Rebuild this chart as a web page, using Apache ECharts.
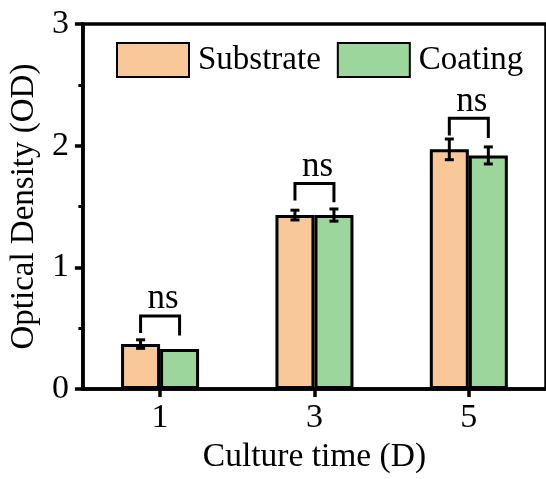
<!DOCTYPE html>
<html>
<head>
<meta charset="utf-8">
<script src="https://cdn.jsdelivr.net/npm/echarts@6/dist/echarts.min.js"></script>
<style>
  html, body { margin: 0; padding: 0; background: #fff; }
  #chart { width: 546px; height: 479px; }
</style>
</head>
<body>
<div id="chart"></div>
<script>
// 培养时间 (天)
const days = [1, 3, 5];
const dayTicks = [1, 3, 5];

// 光密度均值与误差
const substrate = [0.37, 1.43, 1.97];
const substrateErr = [0.035, 0.04, 0.085];
const coating = [0.33, 1.43, 1.92];
const coatingErr = [0, 0.05, 0.07];

// ns 括号: 顶部, 左腿底部, 右腿底部
const bracketTop = [0.60, 1.69, 2.225];
const bracketLeft = [0.46, 1.55, 2.083];
const bracketRight = [0.44, 1.535, 2.064];

const FONT = '"Liberation Serif", "Times New Roman", serif';
const BAR_W = 39;
const ORANGE = '#F9C898';
const GREEN = '#9DD69D';

const chart = echarts.init(document.getElementById('chart'));

// 误差线
function errorBarSeries(name, values, errs, offset) {
  return {
    name: name + ' err',
    type: 'custom',
    z: 5,
    data: days.map((d, i) => [d, values[i], errs[i]]),
    renderItem: (params, api) => {
      const x = api.value(0), y = api.value(1), e = api.value(2);
      if (!e) return null;
      const hi = api.coord([x, y + e]);
      const lo = api.coord([x, y - e]);
      const cx = hi[0] + offset;
      const cap = 4.5;
      const style = { stroke: '#000', lineWidth: 3 };
      return {
        type: 'group',
        children: [
          { type: 'line', shape: { x1: cx, y1: hi[1], x2: cx, y2: lo[1] }, style },
          { type: 'line', shape: { x1: cx - cap, y1: hi[1], x2: cx + cap, y2: hi[1] }, style },
          { type: 'line', shape: { x1: cx - cap, y1: lo[1], x2: cx + cap, y2: lo[1] }, style }
        ]
      };
    }
  };
}

chart.setOption({
  animation: false,
  grid: {
    left: 80,
    top: 24,
    width: 473,
    height: 374.5,
    show: true,
    borderColor: '#000',
    borderWidth: 3.5
  },
  legend: {
    data: ['Substrate', 'Coating'],
    icon: 'rect',
    left: 116,
    top: 42,
    padding: 0,
    itemWidth: 72,
    itemHeight: 34,
    itemGap: 16,
    textStyle: {
      fontFamily: FONT,
      fontSize: 33,
      color: '#000',
      padding: [0, 0, 0, 4]
    }
  },
  xAxis: {
    type: 'value',
    min: 0,
    max: 6,
    name: 'Culture time (D)',
    nameLocation: 'middle',
    nameGap: 45,
    nameTextStyle: { fontFamily: FONT, fontSize: 33.5, color: '#000' },
    splitLine: { show: false },
    axisLine: { lineStyle: { color: '#000', width: 3.5 } },
    axisTick: {
      customValues: dayTicks,
      length: 8,
      lineStyle: { color: '#000', width: 3.5 }
    },
    axisLabel: {
      customValues: dayTicks,
      margin: 12,
      fontFamily: FONT,
      fontSize: 34,
      color: '#000'
    }
  },
  yAxis: {
    type: 'value',
    min: 0,
    max: 3,
    interval: 1,
    name: 'Optical Density (OD)',
    nameLocation: 'middle',
    nameGap: 36,
    nameTextStyle: { fontFamily: FONT, fontSize: 33, color: '#000' },
    splitLine: { show: false },
    axisLine: { show: true, lineStyle: { color: '#000', width: 3.5 } },
    axisTick: { show: true, length: 8, lineStyle: { color: '#000', width: 3.5 } },
    minorTick: { show: true, splitNumber: 2, length: 4.5, lineStyle: { color: '#000', width: 3 } },
    axisLabel: {
      margin: 14,
      fontFamily: FONT,
      fontSize: 34,
      color: '#000'
    }
  },
  series: [
    {
      name: 'Substrate',
      type: 'bar',
      barWidth: BAR_W,
      barGap: '0%',
      data: days.map((d, i) => [d, substrate[i]]),
      itemStyle: { color: ORANGE, borderColor: '#000', borderWidth: 3 }
    },
    {
      name: 'Coating',
      type: 'bar',
      barWidth: BAR_W,
      barGap: '0%',
      data: days.map((d, i) => [d, coating[i]]),
      itemStyle: { color: GREEN, borderColor: '#000', borderWidth: 3 }
    },
    errorBarSeries('Substrate', substrate, substrateErr, -BAR_W / 2),
    errorBarSeries('Coating', coating, coatingErr, BAR_W / 2),
    {
      name: 'ns',
      type: 'custom',
      z: 6,
      data: days.map((d, i) => [d, bracketTop[i], bracketLeft[i], bracketRight[i]]),
      renderItem: (params, api) => {
        const x = api.value(0);
        const top = api.coord([x, api.value(1)]);
        const lb = api.coord([x, api.value(2)]);
        const rb = api.coord([x, api.value(3)]);
        const xl = top[0] - BAR_W / 2;
        const xr = top[0] + BAR_W / 2;
        return {
          type: 'group',
          children: [
            {
              type: 'polyline',
              shape: { points: [[xl, lb[1]], [xl, top[1]], [xr, top[1]], [xr, rb[1]]] },
              style: { stroke: '#000', lineWidth: 3, fill: null }
            },
            {
              type: 'text',
              x: top[0] + 3,
              y: top[1] - 17,
              style: {
                text: 'ns',
                fontFamily: FONT,
                fontSize: 35,
                fill: '#000',
                align: 'center',
                verticalAlign: 'middle'
              }
            }
          ]
        };
      }
    }
  ]
});
</script>
</body>
</html>
